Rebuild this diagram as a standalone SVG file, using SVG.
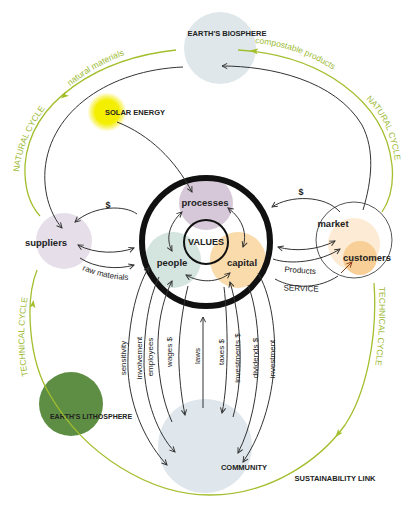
<svg xmlns="http://www.w3.org/2000/svg" width="415" height="518" viewBox="0 0 415 518">
<style>
.lbl{font-family:"Liberation Sans",Arial,sans-serif;font-weight:bold;fill:#222}
.big{font-size:9.5px}
.cap{font-size:7.5px}
.sm{font-family:"Liberation Sans",Arial,sans-serif;font-size:8px;fill:#222}
.grn{font-family:"Liberation Sans",Arial,sans-serif;font-size:8.5px;fill:#9cba34}
.con{fill:none;stroke:#333;stroke-width:1}
.cyc{fill:none;stroke:#a3bf2e;stroke-width:1.3}
</style>
<defs>
<marker id="a" viewBox="0 0 8 8" refX="7" refY="4" markerWidth="7" markerHeight="7" markerUnits="userSpaceOnUse" orient="auto-start-reverse">
<path d="M1,1 L7,4 L1,7" fill="none" stroke="#333" stroke-width="1.1"/>
</marker>
<marker id="ar" viewBox="0 0 8 8" refX="7" refY="4" markerWidth="7" markerHeight="7" markerUnits="userSpaceOnUse" orient="auto">
<path d="M1,1 L7,4 L1,7" fill="none" stroke="#8a3a18" stroke-width="1.1"/>
</marker>
<marker id="g" viewBox="0 0 8 8" refX="4" refY="4" markerWidth="8" markerHeight="8" markerUnits="userSpaceOnUse" orient="auto">
<path d="M0,1 L8,4 L0,7 L2,4 Z" fill="#a3bf2e"/>
</marker>
<radialGradient id="sun" cx="0.5" cy="0.5" r="0.5">
<stop offset="0.6" stop-color="#f4ee00"/>
<stop offset="0.82" stop-color="#f6f040" stop-opacity="0.6"/>
<stop offset="1" stop-color="#fbf890" stop-opacity="0"/>
</radialGradient>
<path id="tpNatMat" d="M70,86 C90,70 113,57 142,50"/>
<path id="tpComp" d="M255,43 C295,47 325,62 350,82"/>
<path id="tpNatL" d="M19,172 C22,148 31,126 47,106"/>
<path id="tpTechL" d="M28,376 C23,350 23,322 28,296"/>
<path id="tpNatR" d="M366,99 C382,114 393,136 396,170"/>
<path id="tpTechR" d="M379,287 C380,312 379,340 375,368"/>
<path id="tpRaw" d="M82,270 C100,277 115,280 133,280"/>
</defs>
<rect width="415" height="518" fill="#fff"/>

<g id="biosphere">
<circle cx="220" cy="48" r="36" fill="#dfe7eb"/>
<text class="lbl cap" x="227" y="36" text-anchor="middle">EARTH'S BIOSPHERE</text>
</g>
<g id="solar-energy">
<circle cx="107" cy="112" r="20" fill="url(#sun)"/>
<text class="lbl cap" x="105" y="115">SOLAR ENERGY</text>
</g>
<g id="community">
<circle cx="205" cy="446" r="47" fill="#dfe7ec"/>
<text class="lbl cap" x="244" y="470" text-anchor="middle">COMMUNITY</text>
</g>
<g id="lithosphere">
<circle cx="71" cy="404" r="32" fill="#5e8e44"/>
<text class="lbl" font-size="7" x="91" y="419" text-anchor="middle">EARTH'S LITHOSPHERE</text>
</g>
<g id="suppliers">
<circle cx="64" cy="241" r="28" fill="#e6dfea"/>
<text class="lbl big" x="46" y="246" text-anchor="middle">suppliers</text>
</g>
<g id="market">
<circle cx="354" cy="240" r="38" fill="#fff" stroke="#555" stroke-width="1"/>
<circle cx="354" cy="244" r="26" fill="#fdebd5"/>
<text class="lbl big" x="333" y="227" text-anchor="middle">market</text>
</g>
<g id="customers">
<circle cx="360" cy="258" r="17" fill="#f8cf96"/>
<text class="lbl big" x="367" y="261" text-anchor="middle">customers</text>
</g>
<g id="processes">
<circle cx="206" cy="203" r="27" fill="#d6c8d8"/>
<text class="lbl big" x="205" y="206" text-anchor="middle">processes</text>
</g>
<g id="people">
<circle cx="173" cy="260" r="28" fill="#d4e4df"/>
<text class="lbl big" x="172" y="266" text-anchor="middle">people</text>
</g>
<g id="capital">
<circle cx="238" cy="260" r="28" fill="#fadbab"/>
<text class="lbl big" x="242" y="266" text-anchor="middle">capital</text>
</g>
<g id="values">
<circle cx="206" cy="242" r="22" fill="none" stroke="#111" stroke-width="2"/>
<text class="lbl" font-size="9" x="206" y="245" text-anchor="middle">VALUES</text>
</g>
<g id="organisation-ring">
<circle cx="206" cy="242" r="64" fill="none" stroke="#111" stroke-width="6"/>
</g>

<g id="cycles">
<path class="cyc" d="M176,50 C100,58 30,100 25,165 C24,190 30,205 40,216"/>
<path class="cyc" d="M238,50 C320,55 385,100 392,165 C394,185 390,200 382,212"/>
<path class="cyc" d="M37,270 C25,300 28,360 50,395 C85,455 150,495 210,495 C270,495 320,460 345,425 C365,395 378,340 374,283"/>
<path d="M70,91 L64,96" fill="none" stroke="none" marker-end="url(#g)"/>
<path d="M262,52 L254,51" fill="none" stroke="none" marker-end="url(#g)"/>
<path d="M32,312 L33,304" fill="none" stroke="none" marker-end="url(#g)"/>
<path d="M343,428 L338,434" fill="none" stroke="none" marker-end="url(#g)"/>
<text class="grn"><textPath href="#tpNatMat">natural materials</textPath></text>
<text class="grn"><textPath href="#tpComp">compostable products</textPath></text>
<text class="grn" font-size="8"><textPath href="#tpNatL">NATURAL CYCLE</textPath></text>
<text class="grn" font-size="8"><textPath href="#tpTechL">TECHNICAL CYCLE</textPath></text>
<text class="grn" font-size="8"><textPath href="#tpNatR">NATURAL CYCLE</textPath></text>
<text class="grn" font-size="8"><textPath href="#tpTechR">TECHNICAL CYCLE</textPath></text>
<text class="lbl cap" x="335" y="481" text-anchor="middle">SUSTAINABILITY LINK</text>
</g>

<g id="connectors">
<path class="con" d="M183,67 C110,70 50,110 45,170 C43,200 55,220 62,228" marker-end="url(#a)"/>
<path class="con" d="M363,210 C372,180 375,150 362,125 C335,80 270,66 222,66" marker-end="url(#a)"/>
<path class="con" stroke="#555" d="M117,122 C150,135 175,160 192,192" marker-end="url(#a)"/>
<path class="con" d="M137,214 C125,205 95,205 75,222" marker-end="url(#a)"/>
<path class="con" d="M78,245 C95,254 118,254 134,248" marker-start="url(#a)" marker-end="url(#a)"/>
<path class="con" d="M80,258 C95,268 118,270 134,265" marker-end="url(#a)"/>
<path class="con" d="M340,212 C325,195 290,195 272,207" marker-end="url(#a)"/>
<path class="con" d="M278,247 C295,252 318,250 335,241" marker-start="url(#a)" marker-end="url(#a)"/>
<path class="con" d="M273,259 C290,265 320,262 340,249" marker-end="url(#a)"/>
<path class="con" d="M275,279 C295,290 320,288 338,276"/>
<path fill="none" stroke="#8a3a18" stroke-width="1" d="M341,273 L352,262" marker-end="url(#ar)"/>
<path class="con" d="M182,212 C168,225 166,240 172,251" marker-start="url(#a)" marker-end="url(#a)"/>
<path class="con" d="M228,208 C244,220 247,235 243,247" marker-start="url(#a)" marker-end="url(#a)"/>
<path class="con" d="M186,275 C200,283 218,283 230,273" marker-start="url(#a)" marker-end="url(#a)"/>
<path class="con" d="M149,267 C135,290 127,330 128,370 C130,410 148,445 167,465" marker-start="url(#a)" marker-end="url(#a)"/>
<path class="con" d="M159,277 C148,300 144,330 144,365 C145,400 158,435 175,452" marker-end="url(#a)"/>
<path class="con" d="M172,422 C162,400 157,370 158,340 C159,315 165,295 172,281" marker-end="url(#a)"/>
<path class="con" d="M188,286 C182,310 178,340 179,365 C180,385 182,400 185,415" marker-end="url(#a)"/>
<path class="con" d="M203,408 L203,317" marker-end="url(#a)"/>
<path class="con" d="M224,287 C228,320 229,380 222,413" marker-end="url(#a)"/>
<path class="con" d="M233,417 C242,385 244,330 230,282" marker-end="url(#a)"/>
<path class="con" d="M248,285 C262,320 265,400 238,453" marker-end="url(#a)"/>
<path class="con" d="M258,273 C280,310 285,400 243,462" marker-end="url(#a)"/>
<text class="lbl" font-size="9" x="108" y="208" text-anchor="middle">$</text>
<text class="lbl" font-size="9" x="301" y="195" text-anchor="middle">$</text>
<text class="sm"><textPath href="#tpRaw">raw materials</textPath></text>
<text class="sm" font-size="8.5" transform="translate(300,273) rotate(4)" text-anchor="middle">Products</text>
<text class="sm" font-size="7.5" transform="translate(301,291) rotate(2)" text-anchor="middle">SERVICE</text>
<text class="sm" transform="translate(126,358) rotate(-90)" text-anchor="middle">sensitivity</text>
<text class="sm" transform="translate(142,358) rotate(-90)" text-anchor="middle">involvement</text>
<text class="sm" transform="translate(153,357) rotate(-90)" text-anchor="middle">employees</text>
<text class="sm" transform="translate(172,352) rotate(-90)" text-anchor="middle">wages $</text>
<text class="sm" transform="translate(200,356) rotate(-90)" text-anchor="middle">laws</text>
<text class="sm" transform="translate(224,352) rotate(-90)" text-anchor="middle">taxes $</text>
<text class="sm" transform="translate(240,358) rotate(-90)" text-anchor="middle">investments $</text>
<text class="sm" transform="translate(258,358) rotate(-90)" text-anchor="middle">dividends $</text>
<text class="sm" transform="translate(275,359) rotate(-90)" text-anchor="middle">investment</text>
</g>
</svg>
